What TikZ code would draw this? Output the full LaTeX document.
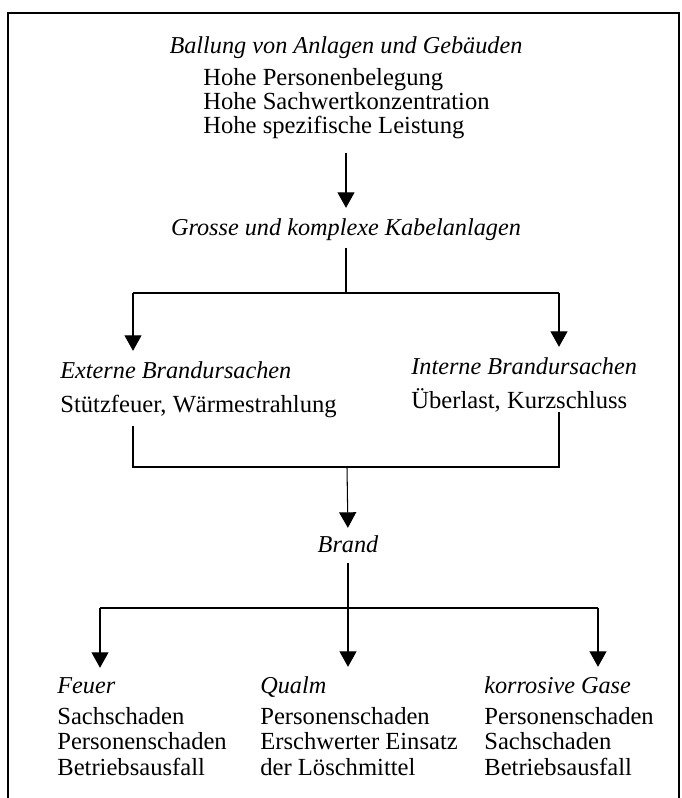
\documentclass[tikz,border=0pt]{standalone}
\usepackage{fontspec}
\setmainfont{Liberation Serif}
\usetikzlibrary{arrows.meta}
\begin{document}
\begin{tikzpicture}[
  txt/.style={inner sep=0pt,font=\fontsize{14}{13.6}\selectfont},
  head/.style={txt,font=\fontsize{13.8}{13.6}\selectfont\itshape},
  body/.style={txt,align=left,anchor=base west},
  low/.style={body,font=\fontsize{14}{14.4}\selectfont},
  arr/.style={line width=0.6pt,-{Triangle[width=3.4mm,length=3.1mm]}},
  ln/.style={line width=0.6pt}]
  \useasboundingbox (0,0) rectangle (13.62,-15.96);
  \draw [line width=0.8pt] (0.16,-15.96) -- (0.16,-0.26) -- (13.58,-0.26) -- (13.58,-15.96);
  \node [head,anchor=base] (ballung) at (6.92,-1.06) {Ballung von Anlagen und Gebäuden};
  \node [body] (hohe) at (4.06,-2.66) {Hohe Personenbelegung\\Hohe Sachwertkonzentration\\Hohe spezifische Leistung};
  \node [head,anchor=base] (grosse) at (6.92,-4.70) {Grosse und komplexe Kabelanlagen};
  \draw [arr,shorten <=0.28cm,shorten >=0.2cm] (hohe.south -| grosse) -- (grosse.north);
  \coordinate (split1) at (6.92,-5.86);
  \coordinate (sl) at (2.66,-5.86);
  \coordinate (sr) at (11.18,-5.86);
  \draw [ln,shorten <=0.14cm] (grosse.south) -- (split1);
  \draw [ln] (sl) -- (sr);
  \node [head,anchor=base west] (extern) at (1.2,-7.56) {Externe Brandursachen};
  \node [body] (externtxt) at (1.2,-8.24) {Stützfeuer, Wärmestrahlung};
  \node [head,anchor=base west] (intern) at (8.22,-7.48) {Interne Brandursachen};
  \node [body] (interntxt) at (8.22,-8.16) {Überlast, Kurzschluss};
  \draw [arr,shorten >=0.2cm] (sl) -- (sl |- extern.north);
  \draw [arr,shorten >=0.2cm] (sr) -- (sr |- intern.north);
  \coordinate (jl) at (2.66,-9.34);
  \coordinate (jr) at (11.18,-9.34);
  \coordinate (jm) at (6.94,-9.34);
  \draw [ln,shorten <=0.16cm] (jl |- externtxt.south) -- (jl) -- (jr) -- (jr |- interntxt.south);
  \node [head,anchor=base] (brand) at (6.96,-11.04) {Brand};
  \draw [arr,shorten >=0.14cm] (jm) -- (brand.north);
  \coordinate (split2) at (6.96,-12.16);
  \coordinate (fl) at (2.0,-12.16);
  \coordinate (fr) at (11.96,-12.16);
  \draw [ln,shorten <=0.2cm] (brand.south) -- (split2);
  \draw [ln] (fl) -- (fr);
  \node [head,anchor=base west] (feuer) at (1.14,-13.86) {Feuer};
  \node [head,anchor=base west] (qualm) at (5.2,-13.86) {Qualm};
  \node [head,anchor=base west] (gase) at (9.68,-13.86) {korrosive Gase};
  \node [low] (feuertxt) at (1.14,-15.50) {Sachschaden\\Personenschaden\\Betriebsausfall};
  \node [low] (qualmtxt) at (5.2,-15.50) {Personenschaden\\Erschwerter Einsatz\\der Löschmittel};
  \node [low] (gasetxt) at (9.68,-15.50) {Personenschaden\\Sachschaden\\Betriebsausfall};
  \draw [arr,shorten >=0.18cm] (fl) -- (fl |- feuer.north);
  \draw [arr,shorten >=0.18cm] (split2) -- (split2 |- qualm.north);
  \draw [arr,shorten >=0.18cm] (fr) -- (fr |- gase.north);
\end{tikzpicture}
\end{document}
